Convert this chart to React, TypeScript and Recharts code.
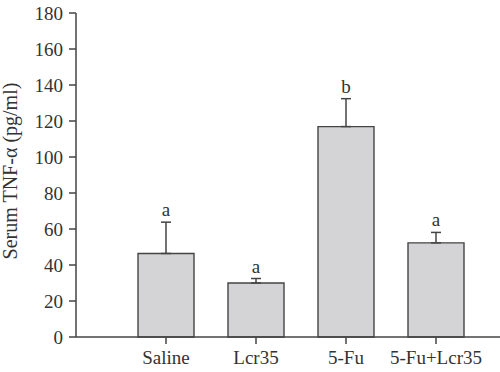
import React from "react";
import {
  Bar,
  Line,
  XAxis,
  YAxis,
  ErrorBar,
  LabelList,
  ComposedChart,
} from "recharts";

const groups = ["Saline", "Lcr35", "5-Fu", "5-Fu+Lcr35"];
const tnf = [46.4, 30.0, 116.9, 52.3];
const sem = [17.4, 2.5, 15.5, 5.8];
const letters = ["a", "a", "b", "a"];
const yTicks = [0, 20, 40, 60, 80, 100, 120, 140, 160, 180];

const data = groups.map((g, i) => ({
  name: g,
  tnf: tnf[i],
  err: [0, sem[i]],
  top: tnf[i] + sem[i],
  sig: letters[i],
}));

const font = "'Liberation Serif', 'DejaVu Serif', serif";
const ink = "#444";

const YLabel = (props: any) => {
  const { viewBox } = props;
  const cx = viewBox.x + 17;
  const cy = viewBox.y + viewBox.height / 2 - 4;
  return (
    <text
      x={cx}
      y={cy}
      transform={`rotate(-90, ${cx}, ${cy})`}
      textAnchor="middle"
      fontFamily={font}
      fontSize={20}
      fill="#333"
    >
      Serum TNF-α (pg/ml)
    </text>
  );
};

export default function App() {
  return (
    <div style={{ position: "absolute", left: 0, top: 0, background: "#fff" }}>
      <ComposedChart
        width={500}
        height={372}
        data={data}
        margin={{ top: 13, right: 0, bottom: 0, left: 0 }}
      >
        <XAxis
          dataKey="name"
          padding={{ left: 45, right: 19 }}
          height={35}
          tickSize={7}
          tickMargin={7}
          stroke={ink}
          strokeWidth={1.5}
          tick={{ fill: "#333", fontSize: 19, fontFamily: font }}
          interval={0}
        />
        <YAxis
          domain={[0, 180]}
          ticks={yTicks}
          width={76}
          tickSize={7}
          tickMargin={6}
          stroke={ink}
          strokeWidth={1.5}
          tick={{ fill: "#333", fontSize: 19, fontFamily: font }}
          label={<YLabel />}
        />
        <Bar
          dataKey="tnf"
          barSize={56}
          fill="#d4d4d6"
          stroke={ink}
          strokeWidth={1.4}
          isAnimationActive={false}
        >
          <ErrorBar dataKey="err" width={5} stroke={ink} strokeWidth={1.5} />
        </Bar>
        <Line
          dataKey="top"
          stroke="none"
          dot={false}
          activeDot={false}
          isAnimationActive={false}
        >
          <LabelList
            dataKey="sig"
            position="top"
            offset={6}
            fill="#333"
            fontSize={19}
            fontFamily={font}
          />
        </Line>
      </ComposedChart>
    </div>
  );
}
